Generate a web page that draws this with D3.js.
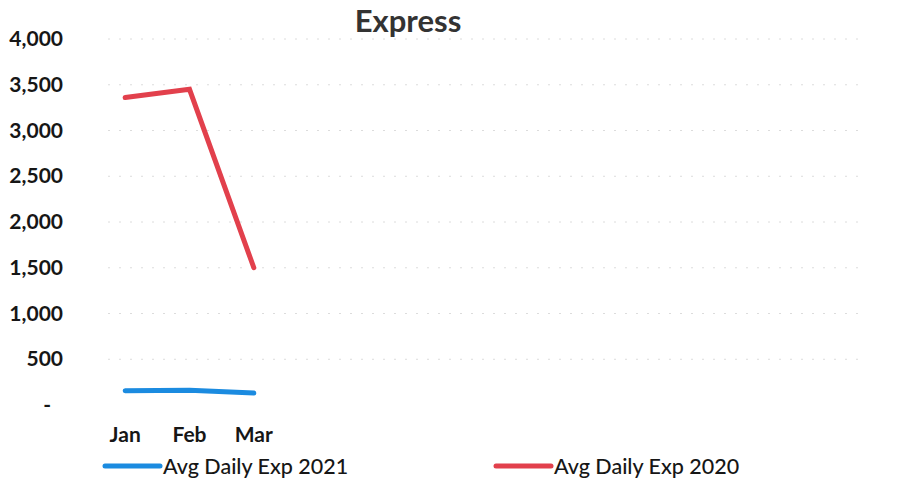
<!DOCTYPE html>
<html>
<head>
<meta charset="utf-8">
<script src="https://cdn.jsdelivr.net/npm/d3@7"></script>
<style>
  html, body { margin: 0; padding: 0; background: #fff; }
  svg { display: block; font-family: Lato, "Open Sans", sans-serif; }
</style>
</head>
<body>
<svg id="chart" width="923" height="485"></svg>
<script>
// Monthly slots on the x axis; only the first quarter has data so far
const months = ["Jan","Feb","Mar","Apr","May","Jun","Jul","Aug","Sep","Oct","Nov","Dec"];
const tickLabels = ["Jan","Feb","Mar","","","","","","","","",""];
const yTicks = [0, 500, 1000, 1500, 2000, 2500, 3000, 3500, 4000];

const seriesNames = ["Avg Daily Exp 2021", "Avg Daily Exp 2020"];
const exp2021 = [155, 160, 130];
const exp2020 = [3360, 3450, 1500];
const seriesColors = ["#1b8be0", "#e2404c"];

const svg = d3.select("#chart");
const margin = { top: 39, right: 58, bottom: 80, left: 93 };
const W = 923, H = 485;

const x = d3.scaleBand().domain(months).range([margin.left, W - margin.right]);
const y = d3.scaleLinear().domain([0, 4000]).range([H - margin.bottom, margin.top]);

// faint dotted gridlines
svg.append("g").selectAll("line").data(yTicks.filter(d => d > 0)).join("line")
  .attr("x1", margin.left + 15).attr("x2", W - margin.right)
  .attr("y1", d => y(d)).attr("y2", d => y(d))
  .attr("stroke", "#dcdcdc").attr("stroke-width", 1)
  .attr("stroke-dasharray", "2,9");

// y axis labels
const fmt = d => d === 0 ? "-" : d3.format(",")(d);
const yAxis = d3.axisLeft(y).tickValues(yTicks).tickFormat(fmt).tickSize(0).tickPadding(0);
const gy = svg.append("g").attr("transform", `translate(${margin.left - 30},0)`).call(yAxis);
gy.select(".domain").remove();
gy.selectAll("text").attr("font-size", 21).attr("font-weight", 700).attr("fill", "#161616")
  .attr("font-family", "Lato, sans-serif");
gy.selectAll(".tick").filter(d => d === 0).select("text").attr("dx", -12);

// x axis labels
const xAxis = d3.axisBottom(x).tickFormat((d, i) => tickLabels[i]).tickSize(0).tickPadding(0);
const gx = svg.append("g").attr("transform", `translate(0,${H - margin.bottom + 22})`).call(xAxis);
gx.select(".domain").remove();
gx.selectAll("text").attr("font-size", 21).attr("font-weight", 700).attr("fill", "#161616")
  .attr("font-family", "Lato, sans-serif");

// series lines
const line = d3.line().x((d, i) => x(months[i]) + x.bandwidth() / 2).y(d => y(d));
[exp2021, exp2020].forEach((vals, k) => {
  svg.append("path").datum(vals)
    .attr("d", line)
    .attr("fill", "none")
    .attr("stroke", seriesColors[k])
    .attr("stroke-width", 5)
    .attr("stroke-linejoin", "miter")
    .attr("stroke-linecap", "round");
});

// title
svg.append("text").attr("x", 408).attr("y", 32).attr("text-anchor", "middle")
  .attr("font-size", 31).attr("font-weight", 700).attr("fill", "#333")
  .attr("font-family", "Lato, sans-serif")
  .text("Express");

// legend
const legendX = [105, 496];
seriesNames.forEach((name, k) => {
  const g = svg.append("g").attr("transform", `translate(${legendX[k]},466)`);
  g.append("line").attr("x1", 0).attr("x2", 55).attr("y1", 0).attr("y2", 0)
    .attr("stroke", seriesColors[k]).attr("stroke-width", 5).attr("stroke-linecap", "round");
  g.append("text").attr("x", 58).attr("y", 8).attr("font-size", 21.5)
    .attr("fill", "#161616").attr("font-family", "Lato, sans-serif").attr("font-weight", 500)
    .text(name);
});
</script>
</body>
</html>
